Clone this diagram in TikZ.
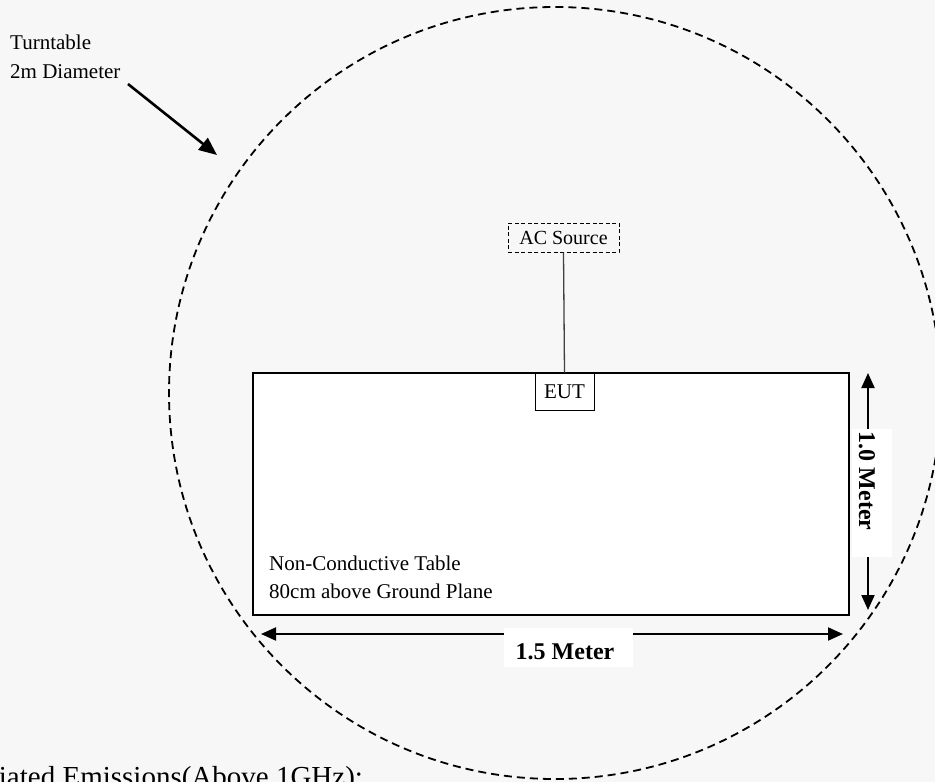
\documentclass[tikz,border=0pt]{standalone}
\usepackage{fontspec}
\setmainfont{Liberation Serif}
\usetikzlibrary{arrows.meta}
\definecolor{bg}{HTML}{F7F7F7}
\begin{document}
\begin{tikzpicture}[x=1pt,y=-1pt,
  txt/.style={inner sep=0pt, anchor=base west, font=\fontsize{21}{25}\selectfont},
  dimarrow/.style={line width=2pt, {Triangle[length=15pt,width=13pt]}-{Triangle[length=15pt,width=13pt]}},
  labelbox/.style={fill=white, inner sep=0pt},
  dimtext/.style={inner sep=0pt, font=\fontsize{24}{28}\selectfont\bfseries},
  turnarrow/.style={line width=2.6pt, -{Triangle[length=18pt,width=15pt]}},
  circ/.style={line width=1.8pt, dash pattern=on 8pt off 5pt},
  acbox/.style={draw, line width=1pt, dash pattern=on 4pt off 2.5pt, inner sep=0pt, minimum width=111pt, minimum height=29pt, font=\fontsize{20}{24}\selectfont},
  eutbox/.style={draw, fill=white, line width=1pt, inner sep=0pt, minimum width=59pt, minimum height=37pt, font=\fontsize{21}{25}\selectfont},
  tablebox/.style={draw, fill=white, line width=2.8pt, inner sep=0pt, minimum width=596pt, minimum height=242pt},
  wire/.style={line width=1.3pt, draw=black!75}
]
\useasboundingbox (0,0) rectangle (935,782);
\clip (0,0) rectangle (935,782);
\fill[bg] (0,0) rectangle (935,782);

% table
\node[tablebox] (table) at (551,494) {};
\node[txt] (tt1) at (269,570) {Non-Conductive Table};
\node[txt] (tt2) at (269,598) {80cm above Ground Plane};

% AC source and EUT
\node[acbox] (ac) at (563.5,237.5) {AC Source};
\node[eutbox] (eut) at (564.5,391.5) {EUT};
\draw[wire] (ac.south) -- (eut.north);

% turntable label
\node[txt] (turn1) at (10,49) {Turntable};
\node[txt] (turn2) at (10,78) {2m Diameter};
\coordinate (tS) at (128,84);
\coordinate (tE) at (217,155);
\draw[turnarrow] (tS) -- (tE);

% dimension arrows
\coordinate (hL) at (261,634);
\coordinate (hR) at (843,634);
\draw[dimarrow] (hL) -- (hR);
\coordinate (vT) at (868,373);
\coordinate (vB) at (868,610);
\draw[dimarrow] (vT) -- (vB);

\node[labelbox, minimum width=129pt, minimum height=39pt] (hbox) at (568.5,647.5) {};
\node[dimtext, anchor=base] (htext) at (565,659) {1.5 Meter};
\node[labelbox, minimum width=40pt, minimum height=128pt] (vbox) at (872,493) {};
\node[dimtext, rotate=-90] (vtext) at (867,481) {1.0 Meter};

% turntable circle
\node[circ, draw, circle, minimum size=772pt, inner sep=0pt] (turntable) at (555,393) {};

% caption (cut off at the picture's edges, as in the reference)
\node[inner sep=0pt, anchor=base west, font=\fontsize{29}{35}\selectfont] (cap) at (-48,786) {Radiated Emissions(Above 1GHz):};
\end{tikzpicture}
\end{document}
